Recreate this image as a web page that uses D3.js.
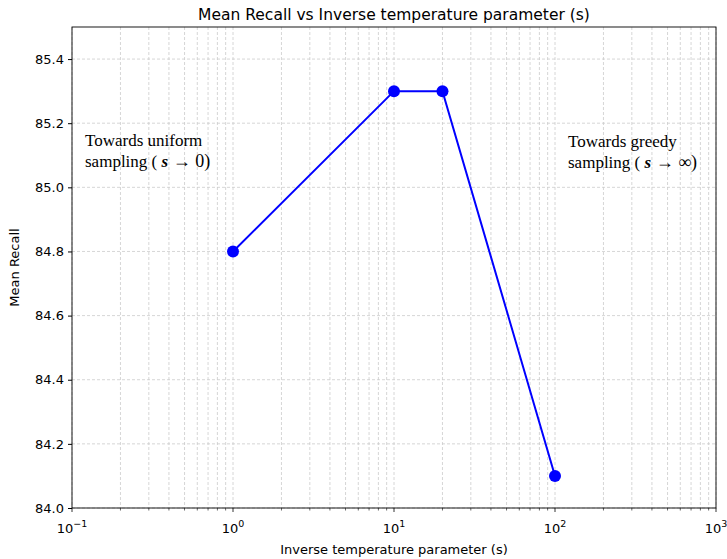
<!DOCTYPE html>
<html>
<head>
<meta charset="utf-8">
<script src="https://cdn.jsdelivr.net/npm/d3@7"></script>
<style>
  body { margin: 0; background: #fff; }
  svg text { font-family: "DejaVu Sans", sans-serif; }
</style>
</head>
<body>
<div id="viz"></div>
<script>
const sValues = [1, 10, 20, 100];
const recall = [84.8, 85.3, 85.3, 84.1];
const yTickValues = [84.0, 84.2, 84.4, 84.6, 84.8, 85.0, 85.2, 85.4];
const xTickExps = [-1, 0, 1, 2, 3];

const width = 727;
const height = 559;
const margin = { top: 27, right: 11, bottom: 51, left: 72 };
const plotWidth = width - margin.left - margin.right;
const plotHeight = height - margin.top - margin.bottom;

const svg = d3.select('#viz').append('svg')
  .attr('width', width)
  .attr('height', height);

const xScale = d3.scaleLog().domain([0.1, 1000]).range([0, plotWidth]);
const yScale = d3.scaleLinear().domain([84.0, 85.5]).range([plotHeight, 0]);

const plot = svg.append('g')
  .attr('transform', `translate(${margin.left}, ${margin.top})`);

// minor + major x grid
let minorTicks = [];
for (let e = -1; e < 3; e++) {
  for (let m = 2; m <= 9; m++) minorTicks.push(m * Math.pow(10, e));
}
const majorTicks = xTickExps.map((e) => Math.pow(10, e));

plot.append('g').selectAll('line').data(minorTicks.concat(majorTicks))
  .enter().append('line')
    .attr('x1', (d) => xScale(d)).attr('x2', (d) => xScale(d))
    .attr('y1', 0).attr('y2', plotHeight)
    .attr('stroke', '#cccccc')
    .attr('stroke-width', 0.8)
    .attr('stroke-dasharray', '3,2');

plot.append('g').selectAll('line').data(yTickValues)
  .enter().append('line')
    .attr('x1', 0).attr('x2', plotWidth)
    .attr('y1', (d) => yScale(d)).attr('y2', (d) => yScale(d))
    .attr('stroke', '#cccccc')
    .attr('stroke-width', 0.8)
    .attr('stroke-dasharray', '3,2');

// line + points
const line = d3.line()
  .x((d) => xScale(d[0]))
  .y((d) => yScale(d[1]));
const pts = sValues.map((s, i) => [s, recall[i]]);

plot.append('path')
  .datum(pts)
  .attr('d', line)
  .attr('fill', 'none')
  .attr('stroke', '#0000ff')
  .attr('stroke-width', 2);

plot.selectAll('circle').data(pts)
  .enter().append('circle')
    .attr('cx', (d) => xScale(d[0]))
    .attr('cy', (d) => yScale(d[1]))
    .attr('r', 6)
    .attr('fill', '#0000ff');

// frame
plot.append('rect')
  .attr('width', plotWidth).attr('height', plotHeight)
  .attr('fill', 'none').attr('stroke', '#000').attr('stroke-width', 0.9);

// y axis
const yAxis = d3.axisLeft(yScale).tickValues(yTickValues)
  .tickFormat(d3.format('.1f')).tickSize(4).tickPadding(4);
plot.append('g').call(yAxis)
  .call((g) => g.select('.domain').remove())
  .call((g) => g.selectAll('text').attr('font-size', 13).attr('fill', '#000')
    .style('font-family', '"DejaVu Sans", sans-serif'));

// x axis (major + minor ticks)
const xg = plot.append('g').attr('transform', `translate(0, ${plotHeight})`);
xg.selectAll('line.minor').data(minorTicks).enter().append('line')
  .attr('x1', (d) => xScale(d)).attr('x2', (d) => xScale(d))
  .attr('y1', 0).attr('y2', 2.5).attr('stroke', '#000').attr('stroke-width', 0.6);
xg.selectAll('line.major').data(majorTicks).enter().append('line')
  .attr('x1', (d) => xScale(d)).attr('x2', (d) => xScale(d))
  .attr('y1', 0).attr('y2', 4).attr('stroke', '#000').attr('stroke-width', 0.8);
const xl = xg.selectAll('text.tick').data(xTickExps).enter().append('text')
  .attr('x', (d) => xScale(Math.pow(10, d)))
  .attr('y', 25)
  .attr('text-anchor', 'middle')
  .attr('font-size', 13);
xl.append('tspan').text('10');
xl.append('tspan').attr('dy', -6).attr('font-size', 9.5)
  .text((d) => d < 0 ? '\u2212' + Math.abs(d) : d);

// labels
svg.append('text')
  .attr('x', margin.left + plotWidth / 2).attr('y', 20)
  .attr('text-anchor', 'middle').attr('font-size', 15.5)
  .text('Mean Recall vs Inverse temperature parameter (s)');

svg.append('text')
  .attr('x', margin.left + plotWidth / 2).attr('y', 554)
  .attr('text-anchor', 'middle').attr('font-size', 13)
  .text('Inverse temperature parameter (s)');

svg.append('text')
  .attr('transform', `translate(19, ${margin.top + plotHeight / 2}) rotate(-90)`)
  .attr('text-anchor', 'middle').attr('font-size', 13)
  .text('Mean Recall');

// annotations
const serif = '"Liberation Serif", "Times New Roman", serif';
function note(x, y, l1, arrow) {
  const t = svg.append('text').attr('font-size', 17).style('font-family', serif);
  t.append('tspan').attr('x', x).attr('y', y).text(l1);
  const t2 = svg.append('text').attr('x', x).attr('y', y + 21)
    .attr('font-size', 17).style('font-family', serif);
  t2.append('tspan').text('sampling ( ');
  t2.append('tspan').attr('font-weight', 'bold').attr('font-style', 'italic').text('s');
  t2.append('tspan').attr('font-size', 18).text(arrow);
}
note(85, 146, 'Towards uniform', '  \u2192 0)');
note(568, 147, 'Towards greedy', ' \u2192 \u221e)');
</script>
</body>
</html>
